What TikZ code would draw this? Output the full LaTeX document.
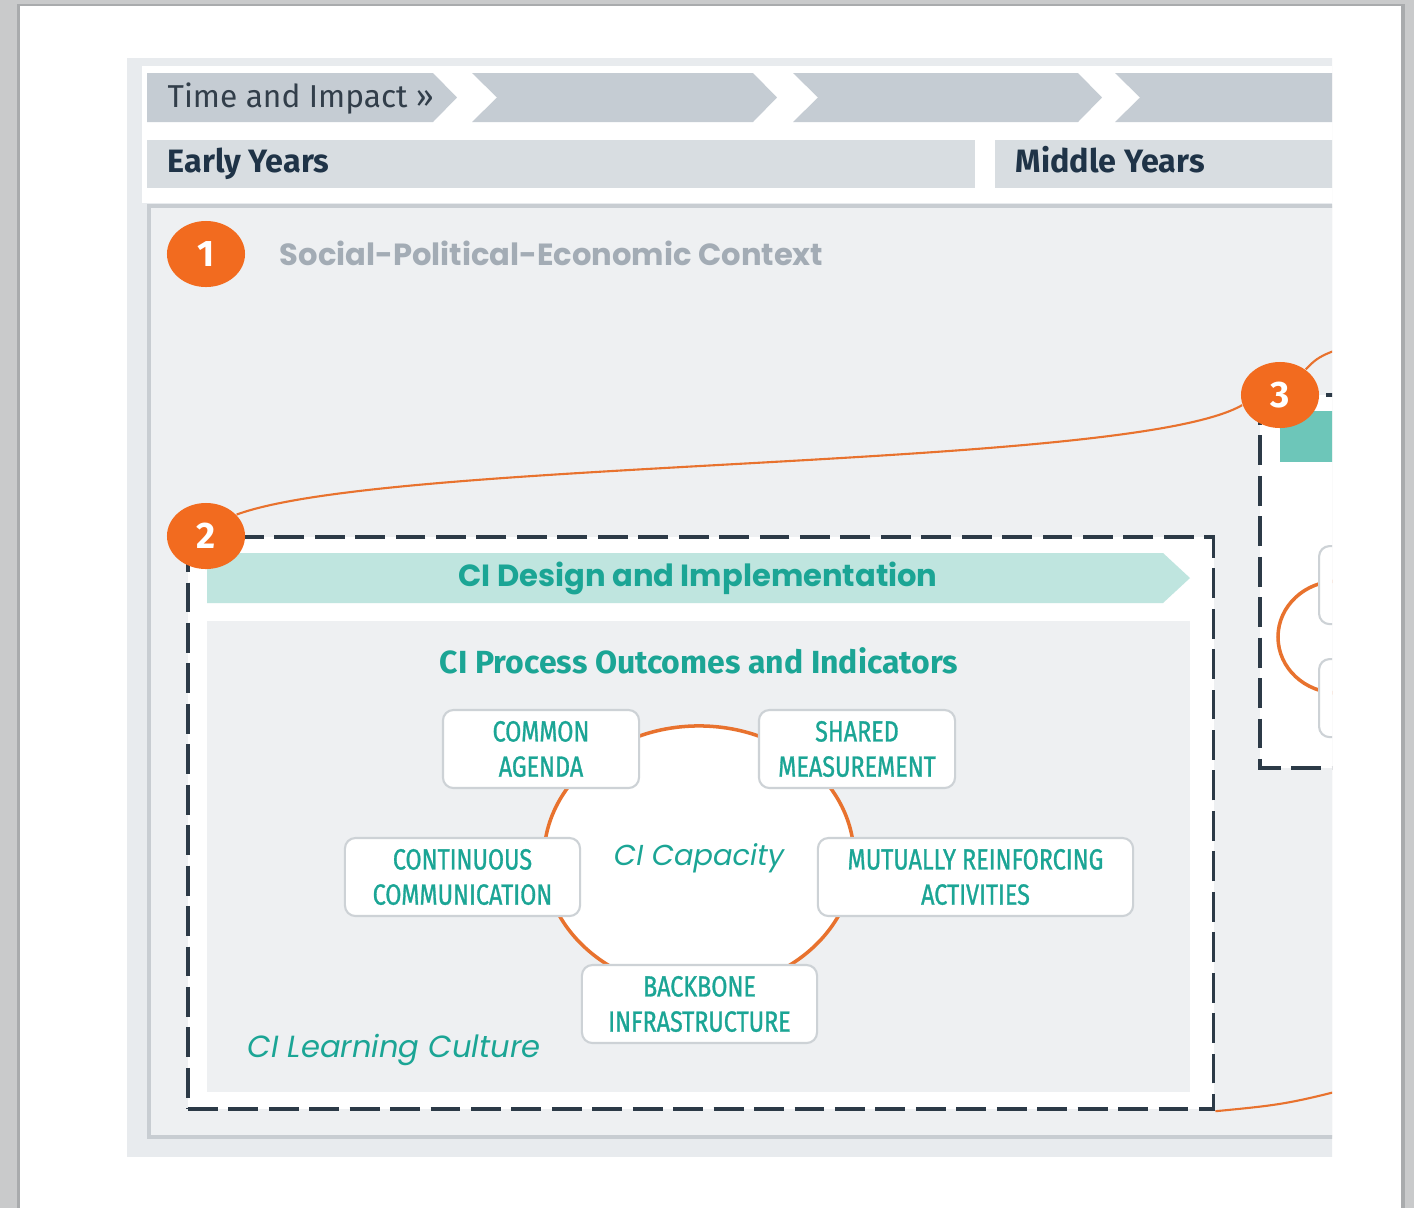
\documentclass[tikz,border=0pt]{standalone}
\usepackage{fontspec}
\usetikzlibrary{shapes.geometric}
\newfontfamily\dinfont{Fira Sans}
\newfontfamily\dincond[FakeStretch=0.8,FakeBold=1]{Fira Sans}
\newfontfamily\geofont{Poppins}
\definecolor{pagegray}{HTML}{C9CACB}
\definecolor{edgegray}{HTML}{A9ABAD}
\definecolor{outergray}{HTML}{E8EBEE}
\definecolor{panelgray}{HTML}{EEF0F2}
\definecolor{framegray}{HTML}{C8CDD2}
\definecolor{chevgray}{HTML}{C5CCD3}
\definecolor{yeargray}{HTML}{D8DDE1}
\definecolor{navy}{HTML}{1F3347}
\definecolor{slate}{HTML}{323E4A}
\definecolor{fadegray}{HTML}{A3ACB5}
\definecolor{citeal}{HTML}{1BA595}
\definecolor{lightteal}{HTML}{BFE5DF}
\definecolor{darkteal}{HTML}{6DC6B9}
\definecolor{ciorange}{HTML}{F26B1F}
\definecolor{ringorange}{HTML}{E8722E}
\definecolor{dashgray}{HTML}{2C3A47}
\definecolor{boxgray}{HTML}{CDD2D6}

\begin{document}
\begin{tikzpicture}[x=0.01cm,y=-0.01cm]
\tikzstyle{numdot}=[ellipse,fill=ciorange,minimum width=0.78cm,minimum height=0.66cm,inner sep=0pt,text=white,font=\dinfont\bfseries\fontsize{10.5}{11}\selectfont]
\tikzstyle{pillar}=[draw=boxgray,line width=0.6pt,fill=white,rounded corners=3pt,minimum height=0.78cm,inner sep=0pt,align=center,text=citeal,font=\dincond\fontsize{8.3}{10}\selectfont]
\tikzstyle{link}=[draw=ringorange,line width=0.6pt]
\tikzstyle{dashbox}=[draw=dashgray,line width=1.1pt,dash pattern=on 8.5pt off 3pt,fill=white]
\tikzstyle{tag}=[inner sep=0pt,anchor=base west]
\useasboundingbox (0,0) rectangle (1414,1208);
\fill[pagegray] (0,0) rectangle (1414,1208);
\fill[edgegray] (17,4) rectangle (1405,1208);
\fill[white] (20,6) rectangle (1401,1208);
\begin{scope}
\clip (0,0) rectangle (1332,1208);
\fill[outergray] (127,58) rectangle (1340,1157);
\fill[white] (142,66) rectangle (1340,203);
\fill[chevgray] (147,73) -- (433,73) -- (457,97.5) -- (433,122) -- (147,122) -- cycle;
\foreach \l/\r in {472/753,793/1078,1115/1400}
	\fill[chevgray] (\l,73) -- (\r,73) -- (\r+24,97.5) -- (\r,122) -- (\l,122) -- (\l+25,97.5) -- cycle;
\fill[yeargray] (147,140) rectangle (975,188);
\fill[yeargray] (995,140) rectangle (1340,188);
\node[tag,text=slate,font=\dinfont\fontsize{9}{10}\selectfont] (impact) at (167,107) {Time and Impact »};
\node[tag,text=navy,font=\dinfont\bfseries\fontsize{9.2}{10}\selectfont] (early) at (167,172) {Early Years};
\node[tag,text=navy,font=\dinfont\bfseries\fontsize{9.2}{10}\selectfont] (middle) at (1015,172) {Middle Years};
\filldraw[fill=panelgray,draw=framegray,line width=1.1pt] (149,206) rectangle (1345,1137);
\node[tag,text=fadegray,font=\geofont\bfseries\fontsize{8.7}{10}\selectfont] (context) at (279,265) {Social-Political-Economic Context};
% middle years box
\draw[dashbox] (1260,395) rectangle (1420,768);
\fill[darkteal] (1280,411) rectangle (1340,462);
\draw[ringorange,line width=1pt] (1338,637) ellipse [x radius=60, y radius=56];
\node[pillar,minimum width=2cm,anchor=north west] (next1) at (1318,545) {};
\node[pillar,minimum width=2cm,anchor=north west] (next2) at (1318,658) {};
% early years box
\node[dashbox,anchor=north west,minimum width=10.25cm,minimum height=5.72cm,inner sep=0pt] (design) at (186,535) {};
\fill[lightteal] (207,553) -- (1163,553) -- (1190,578) -- (1163,603) -- (207,603) -- cycle;
\node[text=citeal,font=\geofont\bfseries\fontsize{8.7}{10}\selectfont] (designlabel) at (698,578) {CI Design and Implementation};
\fill[panelgray] (207,621) rectangle (1190,1092);
\node[text=citeal,font=\dinfont\bfseries\fontsize{9.1}{10}\selectfont] (process) at (699,661) {CI Process Outcomes and Indicators};
\node[ellipse,draw=ringorange,line width=1pt,fill=white,minimum width=3.1cm,minimum height=2.64cm,inner sep=0pt,text=citeal,font=\geofont\itshape\fontsize{8.2}{10}\selectfont] (capacity) at (699,858) {CI Capacity};
\foreach \name/\point/\boxw/\txt in {
	agenda/{541,749}/1.96/{COMMON\\AGENDA},
	measure/{857,749}/1.96/{SHARED\\MEASUREMENT},
	comm/{462.5,877}/2.35/{CONTINUOUS\\COMMUNICATION},
	activity/{975.5,877}/3.15/{MUTUALLY REINFORCING\\ACTIVITIES},
	backbone/{699.5,1004}/2.35/{BACKBONE\\INFRASTRUCTURE}}
	\node[pillar,minimum width=\boxw cm] (\name) at (\point) {\txt};
\node[tag,text=citeal,font=\geofont\itshape\fontsize{8.7}{10}\selectfont] (learning) at (247,1057) {CI Learning Culture};
\node[numdot] (num1) at (206,254) {1};
\node[numdot] (num2) at (206,536) {2};
\node[numdot] (num3) at (1280,395) {3};
\coordinate (exit3) at (1380,335);
\coordinate (exit2) at (1400,1075);
\draw[link] (num2.35) .. controls (390,458) and (1130,470) .. (num3.195);
\draw[link] (num3.45) .. controls (1320,355) .. (exit3);
\draw[link] (design.south east) .. controls (1290,1104) .. (exit2);
\end{scope}
\end{tikzpicture}
\end{document}
